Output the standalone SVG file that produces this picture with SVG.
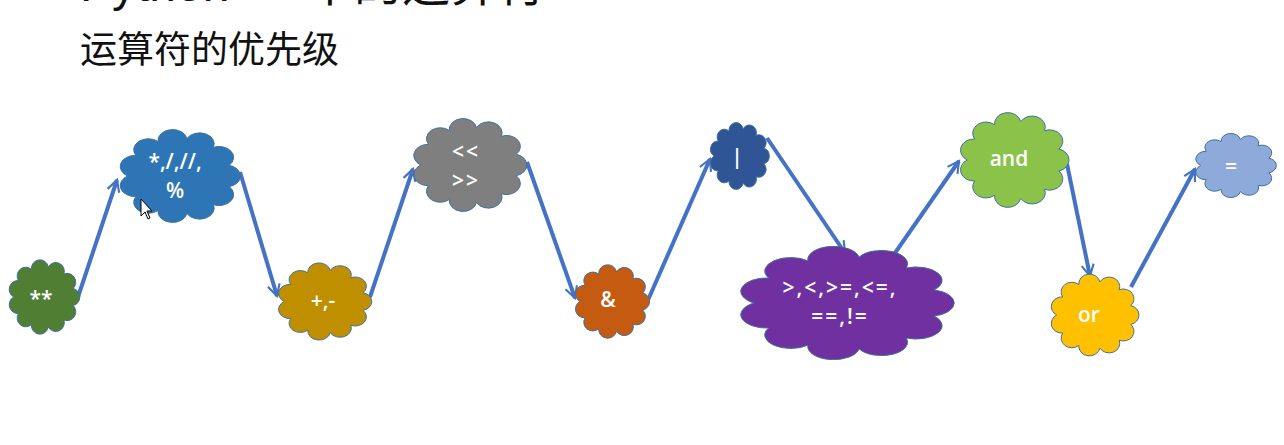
<svg xmlns="http://www.w3.org/2000/svg" xmlns:xlink="http://www.w3.org/1999/xlink" width="1284" height="445" viewBox="0 0 1284 445">
<style>
.title{font-family:"Liberation Sans","Noto Sans CJK SC",sans-serif;fill:#111;}
.lbl{font-family:"Open Sans","Noto Sans",sans-serif;font-size:21px;font-weight:600;fill:#fff;text-anchor:middle;dominant-baseline:central;}
.wide{letter-spacing:2px;}
.cloud{stroke:#41719C;stroke-width:1;}
.conn{fill:none;stroke:#4472C4;stroke-width:4;marker-end:url(#arr);}
</style>
<defs>
<marker id="arr" viewBox="0 0 10 10" refX="8.5" refY="5" markerWidth="3.8" markerHeight="3.8" orient="auto">
<path d="M1,1 L8.5,5 L1,9" fill="none" stroke="#4472C4" stroke-width="1.4" stroke-linejoin="miter"/>
</marker>
<path id="cl" vector-effect="non-scaling-stroke" d="M11,50 A11,11 0 0 1 17.19,29.46 A11,11 0 0 1 33.8,15.44 A11,11 0 0 1 55.55,12.39 A11,11 0 0 1 75.54,21.28 A11,11 0 0 1 87.42,39.3 A11,11 0 0 1 87.42,60.7 A11,11 0 0 1 75.54,78.72 A11,11 0 0 1 55.55,87.61 A11,11 0 0 1 33.8,84.56 A11,11 0 0 1 17.19,70.54 A11,11 0 0 1 11,50 Z"/>
</defs>
<rect width="1284" height="445" fill="#fff"/>
<text class="title" x="80" y="1" font-size="48">Python<tspan x="306" font-family="'Noto Sans CJK SC',sans-serif">中的运算符</tspan></text>
<text class="title" x="80" y="63" font-size="37" font-family="'Noto Sans CJK SC',sans-serif">运算符的优先级</text>

<g id="connectors">
<path class="conn" d="M77,300 L117,180"/>
<path class="conn" d="M240,172 L277,296"/>
<path class="conn" d="M370,297 L413,169"/>
<path class="conn" d="M527,162 L575,298"/>
<path class="conn" d="M648,300 L710,159"/>
<path class="conn" d="M767,138 L845,253"/>
<path class="conn" d="M895,253 L959,161"/>
<path class="conn" d="M1067,164 L1090,276"/>
<path class="conn" d="M1131,287 L1195,169"/>
</g>

<g id="n1"><use xlink:href="#cl" class="cloud" fill="#507E32" transform="translate(5,257) scale(0.78,0.80)"/><text class="lbl" x="41" y="298">**</text></g>
<g id="n2"><use xlink:href="#cl" class="cloud" fill="#2E75B6" transform="translate(113,126) scale(1.33,1.0)"/><text class="lbl" x="175" y="161">*,/,//,</text><text class="lbl" x="175" y="190">%</text></g>
<g id="n3"><use xlink:href="#cl" class="cloud" fill="#BF8F00" transform="translate(273,260) scale(1.03,0.83)"/><text class="lbl" x="323" y="300">+,-</text></g>
<g id="n4"><use xlink:href="#cl" class="cloud" fill="#7F7F7F" transform="translate(407,115) scale(1.25,1.0)"/><text class="lbl wide" x="466" y="151">&lt;&lt;</text><text class="lbl wide" x="466" y="180">&gt;&gt;</text></g>
<g id="n5"><use xlink:href="#cl" class="cloud" fill="#C55A11" transform="translate(571,262) scale(0.82,0.79)"/><text class="lbl" x="608" y="299">&amp;</text></g>
<g id="n6"><use xlink:href="#cl" class="cloud" fill="#2F5597" transform="translate(707,120) scale(0.65,0.72)"/><text class="lbl" x="737" y="156">|</text></g>
<g id="n7"><use xlink:href="#cl" class="cloud" fill="#7030A0" transform="translate(728,242) scale(2.36,1.22)"/><text class="lbl wide" x="840" y="287">&gt;,&lt;,&gt;=,&lt;=,</text><text class="lbl wide" x="840" y="316">==,!=</text></g>
<g id="n8"><use xlink:href="#cl" class="cloud" fill="#8BC34A" transform="translate(954,109) scale(1.2,1.02)"/><text class="lbl" x="1009" y="158">and</text></g>
<g id="n9"><use xlink:href="#cl" class="cloud" fill="#FFC000" transform="translate(1046,271) scale(0.97,0.88)"/><text class="lbl" x="1089" y="314">or</text></g>
<g id="n10"><use xlink:href="#cl" class="cloud" fill="#8EAADB" transform="translate(1191,131) scale(0.89,0.69)"/><text class="lbl" x="1231" y="166">=</text></g>

<path d="M141,199 L141,216 L145,212 L148,219 L150,218 L147,211 L152,211 Z" fill="#fff" stroke="#000" stroke-width="1"/>
</svg>
